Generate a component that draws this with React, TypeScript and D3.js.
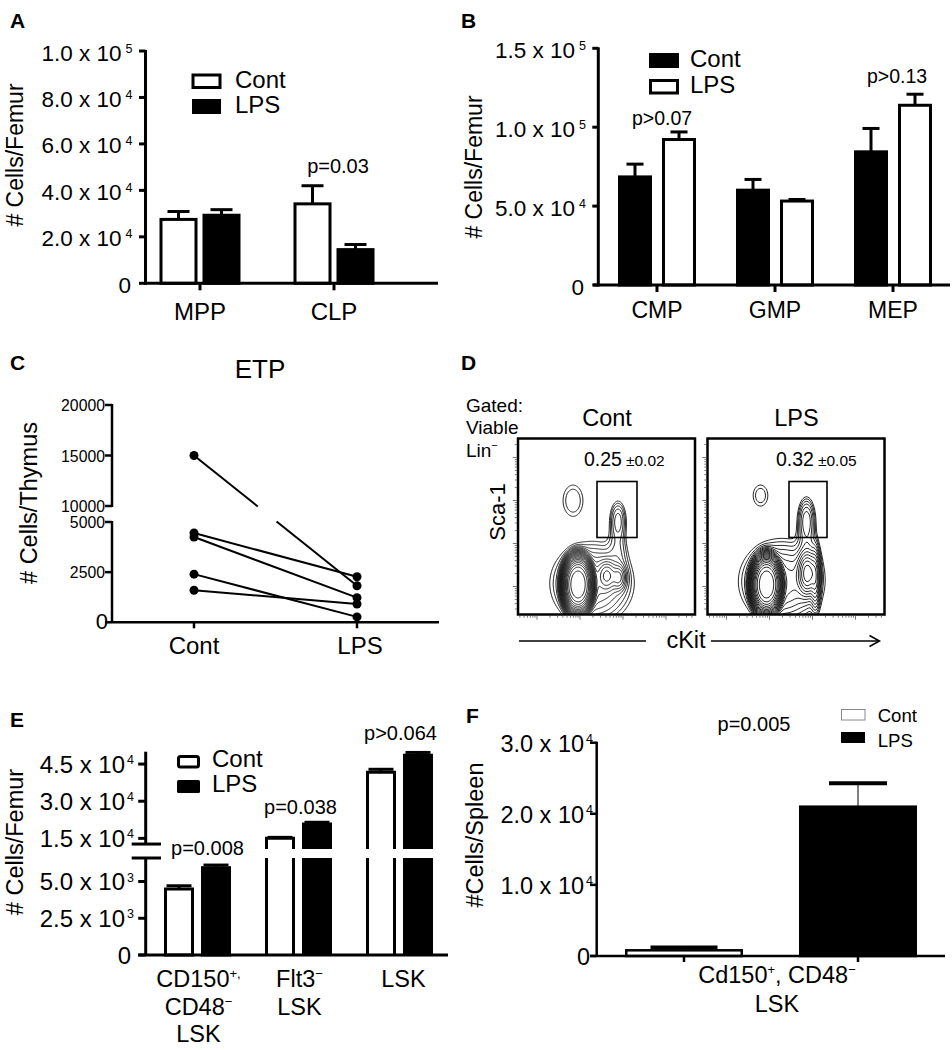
import React from "react";
import * as d3 from "d3";

const FONT = "'Liberation Sans', Arial, Helvetica, sans-serif";

// ---------------- Panel A data ----------------
const aCategories = ["MPP", "CLP"];
const aSeries = ["Cont", "LPS"];
const aContMeans = [27500, 34200];
const aContSem = [3400, 7800];
const aLpsMeans = [29300, 14500];
const aLpsSem = [2400, 2200];
const aTicks = [0, 20000, 40000, 60000, 80000, 100000];
const aTickLabels = ["0", "2.0 x 10^{4}", "4.0 x 10^{4}", "6.0 x 10^{4}", "8.0 x 10^{4}", "1.0 x 10^{5}"];
const aPLabels = ["", "p=0.03"];

// ---------------- Panel B data ----------------
const bCategories = ["CMP", "GMP", "MEP"];
const bSeries = ["Cont", "LPS"];
const bContMeans = [68500, 60100, 84400];
const bContSem = [8100, 6800, 14800];
const bLpsMeans = [92200, 53200, 113900];
const bLpsSem = [4800, 1000, 7000];
const bTicks = [0, 50000, 100000, 150000];
const bTickLabels = ["0", "5.0 x 10^{4}", "1.0 x 10^{5}", "1.5 x 10^{5}"];
const bPLabels = ["p>0.07", "", "p>0.13"];

// ---------------- Panel C data ----------------
const cGroups = ["Cont", "LPS"];
const cContValues = [15000, 4450, 4250, 2400, 1600];
const cLpsValues = [1820, 2270, 1230, 270, 910];
const cLowTicks = [0, 2500, 5000];
const cHighTicks = [10000, 15000, 20000];

// ---------------- Panel D data ----------------
const dPlotTitles = ["Cont", "LPS"];
const dGateFreq = ["0.25", "0.32"];
const dGateSd = ["±0.02", "±0.05"];
// populations: [cx, cy, sx, sy, weight, shape] in plot-box pixels
const dContPops = [
  [60, 146, 8, 15, 1, 1.6],
  [74, 145, 22, 22, 0.012, 1],
  [89, 137, 5, 8, 0.02, 1],
  [101, 139, 4, 7, 0.016, 1],
  [100, 82, 5, 12, 0.007, 1],
  [100, 112, 6, 14, 0.003, 1],
  [55, 62, 9, 14, 0.0032, 1.3],
];
const dLpsPops = [
  [59, 146, 8, 15, 1, 1.6],
  [74, 143, 22, 22, 0.013, 1],
  [100, 135, 5, 11, 0.05, 1],
  [108, 140, 2.5, 16, 0.02, 1],
  [99, 82, 5, 13, 0.01, 1],
  [100, 112, 6, 14, 0.004, 1],
  [53, 57, 7, 10, 0.003, 1.3],
];
const dGates = [
  [79, 43, 40, 56],
  [81.5, 43, 38, 56],
];

// ---------------- Panel E data ----------------
const eCategories = ["CD150^{+,}|CD48^{−}|LSK", "Flt3^{−}|LSK", "LSK"];
const eSeries = ["Cont", "LPS"];
const eContMeans = [4490, 15000, 41700];
const eContSem = [220, 400, 1200];
const eLpsMeans = [5940, 20800, 48600];
const eLpsSem = [180, 700, 1100];
const eLowTicks = [0, 2500, 5000];
const eLowTickLabels = ["0", "2.5 x 10^{3}", "5.0 x 10^{3}"];
const eHighTicks = [15000, 30000, 45000];
const eHighTickLabels = ["1.5 x 10^{4}", "3.0 x 10^{4}", "4.5 x 10^{4}"];
const ePLabels = ["p=0.008", "p=0.038", "p>0.064"];

// ---------------- Panel F data ----------------
const fSeries = ["Cont", "LPS"];
const fMeans = [800, 21000];
const fSem = [400, 3300];
const fTicks = [0, 10000, 20000, 30000];
const fTickLabels = ["0", "1.0 x 10^{4}", "2.0 x 10^{4}", "3.0 x 10^{4}"];
const fCategory = "Cd150^{+}, CD48^{−}|LSK";
const fPLabel = "p=0.005";

// ---------------- helpers ----------------
function Rich({ text, x, y, size, supSize, anchor = "start", weight, shift, supDx = 0 }: any) {
  const parts = text.split(/\^\{([^}]*)\}/);
  const sh = shift ?? size * 0.38;
  const nodes: any[] = [];
  let up = false;
  parts.forEach((p: string, i: number) => {
    if (!p) return;
    const isSup = i % 2 === 1;
    let dy = 0;
    if (isSup && !up) { dy = -sh; up = true; }
    else if (!isSup && up) { dy = sh; up = false; }
    nodes.push(
      <tspan key={i} dy={dy || undefined} dx={isSup && supDx ? supDx : undefined} fontSize={isSup ? supSize : size}>{p}</tspan>
    );
  });
  return (
    <text x={x} y={y} textAnchor={anchor} fontSize={size} fontWeight={weight} fill="#000">
      {nodes}
    </text>
  );
}

function RotTitle({ x, y, text, size }: any) {
  return (
    <text transform={`translate(${x},${y}) rotate(-90)`} textAnchor="middle" fontSize={size} fill="#000">
      {text}
    </text>
  );
}

function Letter({ x, y, t }: any) {
  return <text x={x} y={y} fontSize={21} fontWeight="bold" fill="#000">{t}</text>;
}

function ErrBar({ cx, y0, y1, capW, sw = 3, capSw = 3 }: any) {
  return (
    <g stroke="#000" fill="none">
      <line x1={cx} x2={cx} y1={y0} y2={y1} strokeWidth={sw} />
      <line x1={cx - capW / 2} x2={cx + capW / 2} y1={y1} y2={y1} strokeWidth={capSw} />
    </g>
  );
}

// ---------------- Panel A ----------------
function PanelA() {
  const y = d3.scaleLinear().domain([0, 100000]).range([283.3, 51]);
  const x0 = d3.scaleBand().domain(aCategories).range([133, 401]);
  const x1 = d3.scaleBand().domain(aSeries).range([-40.5, 40.5]).paddingInner(5 / 43);
  const means = [aContMeans, aLpsMeans];
  const sems = [aContSem, aLpsSem];
  const fills = ["#fff", "#000"];
  const axX = 145.5;
  return (
    <g>
      <Letter x={10} y={28.3} t="A" />
      <RotTitle x={23} y={155} text="# Cells/Femur" size={23} />
      {aTicks.map((t, i) => (
        <g key={t}>
          <line x1={axX - 6.5} x2={axX} y1={y(t)} y2={y(t)} stroke="#000" strokeWidth={3} />
          <Rich text={aTickLabels[i]} x={t === 0 ? 131 : 132.5} y={y(t) + 9.5} size={22.5} supSize={12.5} anchor="end" shift={8} supDx={4} />
        </g>
      ))}
      {aCategories.map((c, ci) => {
        const cx = (x0(c) as number) + x0.bandwidth() / 2;
        return (
          <g key={c}>
            <line x1={cx} x2={cx} y1={y(0)} y2={y(0) + 7} stroke="#000" strokeWidth={3} />
            <text x={cx} y={320} textAnchor="middle" fontSize={24} fill="#000">{c}</text>
            {aSeries.map((s, si) => {
              const bx = cx + (x1(s) as number);
              const bw = x1.bandwidth();
              const v = means[si][ci];
              return (
                <g key={s}>
                  <ErrBar cx={bx + bw / 2} y0={y(v)} y1={y(v + sems[si][ci])} capW={22} />
                  <rect x={bx + 1.5} y={y(v)} width={bw - 3} height={y(0) - y(v)} fill={fills[si]} stroke="#000" strokeWidth={3} />
                </g>
              );
            })}
            {aPLabels[ci] && (
              <text x={cx + 4} y={173.3} textAnchor="middle" fontSize={20} fill="#000">{aPLabels[ci]}</text>
            )}
          </g>
        );
      })}
      <line x1={axX} x2={axX} y1={y(100000) - 1} y2={y(0) + 1.5} stroke="#000" strokeWidth={3} />
      <line x1={axX} x2={438} y1={y(0)} y2={y(0)} stroke="#000" strokeWidth={3} />
      {/* legend */}
      <rect x={193} y={75} width={27} height={12.5} fill="#fff" stroke="#000" strokeWidth={3} />
      <rect x={192} y={99} width={29} height={15} fill="#000" />
      <text x={235} y={87.5} fontSize={24} fill="#000">{aSeries[0]}</text>
      <text x={235} y={113} fontSize={24} fill="#000">{aSeries[1]}</text>
    </g>
  );
}

// ---------------- Panel B ----------------
function PanelB() {
  const y = d3.scaleLinear().domain([0, 150000]).range([285, 48.3]);
  const x0 = d3.scaleBand().domain(bCategories).range([598, 952]);
  const x1 = d3.scaleBand().domain(bSeries).range([-39, 39]).paddingInner(10 / 44);
  const means = [bContMeans, bLpsMeans];
  const sems = [bContSem, bLpsSem];
  const fills = ["#000", "#fff"];
  const axX = 598.3;
  return (
    <g>
      <Letter x={461} y={28.3} t="B" />
      <RotTitle x={482} y={167} text="# Cells/Femur" size={23} />
      {bTicks.map((t, i) => (
        <g key={t}>
          <line x1={axX - 6} x2={axX} y1={y(t)} y2={y(t)} stroke="#000" strokeWidth={3} />
          <Rich text={bTickLabels[i]} x={t === 0 ? 584 : 586} y={y(t) + 9.5} size={22.5} supSize={12.5} anchor="end" shift={8} supDx={4} />
        </g>
      ))}
      {bCategories.map((c, ci) => {
        const cx = (x0(c) as number) + x0.bandwidth() / 2;
        return (
          <g key={c}>
            <line x1={cx} x2={cx} y1={y(0)} y2={y(0) + 7} stroke="#000" strokeWidth={3} />
            <text x={cx} y={318} textAnchor="middle" fontSize={23} fill="#000">{c}</text>
            {bSeries.map((s, si) => {
              const bx = cx + (x1(s) as number);
              const bw = x1.bandwidth();
              const v = means[si][ci];
              return (
                <g key={s}>
                  <ErrBar cx={bx + bw / 2} y0={y(v)} y1={y(v + sems[si][ci])} capW={17} />
                  <rect x={bx + 1.5} y={y(v)} width={bw - 3} height={y(0) - y(v)} fill={fills[si]} stroke="#000" strokeWidth={3} />
                </g>
              );
            })}
            {bPLabels[ci] && (
              <text x={ci === 0 ? cx + 5 : cx + 4} y={ci === 0 ? 125 : 82.7} textAnchor="middle" fontSize={19.5} fill="#000">{bPLabels[ci]}</text>
            )}
          </g>
        );
      })}
      <line x1={axX} x2={axX} y1={y(150000) - 1} y2={y(0) + 1.5} stroke="#000" strokeWidth={3} />
      <line x1={593} x2={950} y1={y(0)} y2={y(0)} stroke="#000" strokeWidth={3} />
      {/* legend */}
      <rect x={649} y={53} width={30} height={15} fill="#000" />
      <rect x={650.5} y={80.5} width={27} height={12.5} fill="#fff" stroke="#000" strokeWidth={3} />
      <text x={690} y={67} fontSize={24} fill="#000">{bSeries[0]}</text>
      <text x={690} y={93} fontSize={24} fill="#000">{bSeries[1]}</text>
    </g>
  );
}

// ---------------- Panel C ----------------
function PanelC() {
  const yLow = d3.scaleLinear().domain([0, 5000]).range([622.3, 522]);
  const yHigh = d3.scaleLinear().domain([10000, 20000]).range([506, 405]);
  const yv = (v: number) => (v >= 10000 ? yHigh(v) : yLow(v));
  const x = d3.scalePoint().domain(cGroups).range([194, 357]);
  const axX = 112;
  const gapTop = 506.5;
  const gapBot = 521.5;
  const segs: any[] = [];
  cContValues.forEach((cv, i) => {
    const xa = x("Cont") as number, ya = yv(cv);
    const xb = x("LPS") as number, yb = yv(cLpsValues[i]);
    if (ya < gapTop && yb > gapBot) {
      const t1 = (gapTop - ya) / (yb - ya);
      const t2 = (gapBot - ya) / (yb - ya);
      segs.push([xa, ya, xa + (xb - xa) * t1, gapTop]);
      segs.push([xa + (xb - xa) * t2, gapBot, xb, yb]);
    } else {
      segs.push([xa, ya, xb, yb]);
    }
  });
  return (
    <g>
      <Letter x={10} y={370} t="C" />
      <text x={260} y={378} textAnchor="middle" fontSize={26} fill="#000">ETP</text>
      <RotTitle x={37} y={503} text="# Cells/Thymus" size={23.5} />
      {cLowTicks.map((t) => (
        <g key={t}>
          <line x1={axX - 7} x2={axX} y1={yLow(t)} y2={yLow(t)} stroke="#000" strokeWidth={2.5} />
          <text x={t === 0 ? 108 : 105} y={yLow(t) + (t === 0 ? 7 : 6)} textAnchor="end" fontSize={t === 0 ? 22 : 15.8} fill="#000">{t}</text>
        </g>
      ))}
      {cHighTicks.map((t) => (
        <g key={t}>
          <line x1={axX - 7} x2={axX} y1={yHigh(t)} y2={yHigh(t)} stroke="#000" strokeWidth={2.5} />
          <text x={105} y={yHigh(t) + 6} textAnchor="end" fontSize={15.8} fill="#000">{t}</text>
        </g>
      ))}
      <line x1={axX} x2={axX} y1={yLow(0)} y2={yLow(5000) - 1} stroke="#000" strokeWidth={2.5} />
      <line x1={axX} x2={axX} y1={yHigh(10000) + 1} y2={yHigh(20000) - 1} stroke="#000" strokeWidth={2.5} />
      <line x1={axX} x2={439} y1={yLow(0)} y2={yLow(0)} stroke="#000" strokeWidth={2.5} />
      {cGroups.map((g) => (
        <g key={g}>
          <line x1={x(g)} x2={x(g)} y1={yLow(0)} y2={yLow(0) + 6} stroke="#000" strokeWidth={2.5} />
          <text x={(x(g) as number) + (g === "LPS" ? 3 : 0)} y={654} textAnchor="middle" fontSize={24} fill="#000">{g}</text>
        </g>
      ))}
      {segs.map((s, i) => (
        <line key={i} x1={s[0]} y1={s[1]} x2={s[2]} y2={s[3]} stroke="#000" strokeWidth={2} />
      ))}
      {cContValues.map((v, i) => (
        <circle key={"c" + i} cx={x("Cont")} cy={yv(v)} r={4.5} fill="#000" />
      ))}
      {cLpsValues.map((v, i) => (
        <circle key={"l" + i} cx={x("LPS")} cy={yv(v)} r={4.5} fill="#000" />
      ))}
    </g>
  );
}

// ---------------- Panel D ----------------
function ContourPlot({ x0, y0, pops, gate, title, freq, sd }: any) {
  const W = 177, H = 176;
  const vals: number[] = new Array(W * H);
  for (let j = 0; j < H; j++) {
    for (let i = 0; i < W; i++) {
      let s = 0;
      for (const [cx, cy, sx, sy, w, q] of pops) {
        const dx = (i + 0.5 - cx) / sx;
        const dy = (j + 0.5 - cy) / sy;
        s += w * Math.exp(-Math.pow(0.5 * (dx * dx + dy * dy), q));
      }
      vals[i + j * W] = s;
    }
  }
  const levels = d3.range(22).map((k) => 0.8 * Math.pow(0.75, k));
  const contours = d3.contours().size([W, H]).thresholds(levels)(vals);
  const path = d3.geoPath();
  const decade = 43;
  const yMajors = [19, 62, 105, 148];
  const xMajors = [19, 62, 105, 148];
  const minorOff = d3.range(2, 10).map((m) => Math.log10(m) * decade);
  const xTicks: any[] = [];
  [-24, ...xMajors].forEach((m, k) => {
    if (k > 0) xTicks.push([m, 4]);
    minorOff.forEach((o) => {
      const p = m + o;
      if (p > 0 && p < W) xTicks.push([p, 2]);
    });
  });
  const yTicks: any[] = [];
  [...yMajors, 191].forEach((m, k) => {
    if (k < yMajors.length) yTicks.push([m, 4]);
    minorOff.forEach((o) => {
      const p = m - o;
      if (p > 0 && p < H) yTicks.push([p, 2]);
    });
  });
  return (
    <g>
      <text x={x0 + 89} y={426} textAnchor="middle" fontSize={23.5} fill="#000">{title}</text>
      <defs>
        <clipPath id={"clip" + title}>
          <rect x={0} y={0} width={W} height={H} />
        </clipPath>
      </defs>
      <g transform={`translate(${x0},${y0})`}>
        <g clipPath={`url(#clip${title})`}>
          {contours.map((c, i) => (
            <path key={i} d={path(c as any) || ""} fill="none" stroke="#111" strokeWidth={0.9} />
          ))}
        </g>
        <rect x={gate[0]} y={gate[1]} width={gate[2]} height={gate[3]} fill="none" stroke="#000" strokeWidth={1.6} />
        <rect x={0} y={0} width={W} height={H} fill="none" stroke="#000" strokeWidth={2.5} />
        {yTicks.map((t, i) => (
          <line key={"y" + i} x1={-1.2 - t[1]} x2={-1.2} y1={t[0]} y2={t[0]} stroke="#555" strokeWidth={0.8} />
        ))}
        {xTicks.map((t, i) => (
          <line key={"x" + i} x1={t[0]} x2={t[0]} y1={H + 1.2} y2={H + 1.2 + t[1]} stroke="#555" strokeWidth={0.8} />
        ))}
        <text x={gate[0] - 13} y={27} fontSize={19.5} fill="#000">
          {freq}
          <tspan dx={4} fontSize={15.5}>{sd}</tspan>
        </text>
      </g>
    </g>
  );
}

function PanelD() {
  const xs = [518, 707.5];
  const pops = [dContPops, dLpsPops];
  return (
    <g>
      <Letter x={461} y={370} t="D" />
      <text x={466} y={411.5} fontSize={19} fill="#000">Gated:</text>
      <text x={466} y={434.3} fontSize={19} fill="#000">Viable</text>
      <Rich text="Lin^{−}" x={466} y={456.7} size={19} supSize={11} shift={8} />
      <RotTitle x={505} y={512} text="Sca-1" size={22} />
      {dPlotTitles.map((t, i) => (
        <ContourPlot key={t} x0={xs[i]} y0={438.5} pops={pops[i]} gate={dGates[i]} title={t} freq={dGateFreq[i]} sd={dGateSd[i]} />
      ))}
      <text x={686} y={648.3} textAnchor="middle" fontSize={23.5} fill="#000">cKit</text>
      <line x1={519} x2={646} y1={641} y2={641} stroke="#000" strokeWidth={1.5} />
      <line x1={711} x2={879} y1={641} y2={641} stroke="#000" strokeWidth={1.5} />
      <polyline points="869.5,635.5 879.5,641 869.5,646.5" fill="none" stroke="#000" strokeWidth={1.5} />
    </g>
  );
}

// ---------------- Panel E ----------------
function PanelE() {
  const yLow = d3.scaleLinear().domain([0, 6600]).range([955, 858]);
  const yUp = d3.scaleLinear().domain([10700, 50000]).range([849, 751.7]);
  const yv = (v: number) => (v <= 6600 ? yLow(v) : yUp(v));
  const x0 = d3.scaleBand().domain(eCategories).range([147, 450]);
  const x1 = d3.scaleBand().domain(eSeries).range([-33.5, 33.5]).paddingInner(7 / 37);
  const means = [eContMeans, eLpsMeans];
  const sems = [eContSem, eLpsSem];
  const fills = ["#fff", "#000"];
  const axX = 145.7;
  const base = yLow(0);
  const lowTop = yLow(6600);
  const upBot = yUp(10700);
  const pY = [855, 814, 740];
  return (
    <g>
      <Letter x={10} y={727} t="E" />
      <RotTitle x={23} y={842} text="# Cells/Femur" size={23.5} />
      {eLowTicks.map((t, i) => (
        <g key={t}>
          <line x1={axX - 7.5} x2={axX} y1={yLow(t)} y2={yLow(t)} stroke="#000" strokeWidth={3} />
          <Rich text={eLowTickLabels[i]} x={t === 0 ? 131 : 134} y={yLow(t) + 8.5} size={24} supSize={12.5} anchor="end" shift={8.5} supDx={2} />
        </g>
      ))}
      {eHighTicks.map((t, i) => (
        <g key={t}>
          <line x1={axX - 7.5} x2={axX} y1={yUp(t)} y2={yUp(t)} stroke="#000" strokeWidth={3} />
          <Rich text={eHighTickLabels[i]} x={134} y={yUp(t) + 8.5} size={24} supSize={12.5} anchor="end" shift={8.5} supDx={2} />
        </g>
      ))}
      <line x1={axX} x2={axX} y1={base} y2={lowTop} stroke="#000" strokeWidth={3} />
      <line x1={axX} x2={axX} y1={yUp(12700)} y2={yUp(50000)} stroke="#000" strokeWidth={3} />
      <line x1={131.7} x2={161} y1={yUp(12700)} y2={yUp(12700)} stroke="#000" strokeWidth={3} />
      <line x1={131.7} x2={161} y1={lowTop} y2={lowTop} stroke="#000" strokeWidth={3} />
      {eCategories.map((c, ci) => {
        const cx = (x0(c) as number) + x0.bandwidth() / 2;
        const lines = c.split("|");
        return (
          <g key={c}>
            {lines.map((ln, li) => (
              <Rich key={li} text={ln} x={cx + (ci === 0 ? 1 : ci === 1 ? 1 : 4)} y={987 + li * 27.5} size={23.5} supSize={13} anchor="middle" shift={9} />
            ))}
            {eSeries.map((s, si) => {
              const bx = cx + (x1(s) as number) + 1.5;
              const bw = x1.bandwidth() - 3;
              const v = means[si][ci];
              const top = yv(v);
              const err = yv(v + sems[si][ci]);
              const fill = fills[si];
              return (
                <g key={s}>
                  <ErrBar cx={bx + bw / 2} y0={top} y1={err} capW={bw - 2} />
                  {v <= 6600 ? (
                    <rect x={bx} y={top} width={bw} height={base - top} fill={fill} stroke="#000" strokeWidth={3} />
                  ) : (
                    <g>
                      <rect x={bx} y={lowTop} width={bw} height={base - lowTop} fill={fill} />
                      <path d={`M${bx},${base}V${lowTop}M${bx + bw},${lowTop}V${base}`} fill="none" stroke="#000" strokeWidth={3} />
                      <rect x={bx} y={top} width={bw} height={upBot - top} fill={fill} />
                      <path d={`M${bx},${upBot}V${top}H${bx + bw}V${upBot}`} fill="none" stroke="#000" strokeWidth={3} />
                    </g>
                  )}
                </g>
              );
            })}
            <text x={cx + (ci === 0 ? 10 : ci === 1 ? 2 : 1)} y={pY[ci]} textAnchor="middle" fontSize={20} fill="#000">{ePLabels[ci]}</text>
          </g>
        );
      })}
      <line x1={138.3} x2={448} y1={base} y2={base} stroke="#000" strokeWidth={3} />
      {/* legend */}
      <rect x={178.5} y={756.5} width={20} height={10.5} rx={2} fill="#fff" stroke="#000" strokeWidth={3} />
      <rect x={177} y={780} width={23} height={13} rx={1.5} fill="#000" />
      <text x={212} y={767} fontSize={24} fill="#000">{eSeries[0]}</text>
      <text x={212} y={791.5} fontSize={24} fill="#000">{eSeries[1]}</text>
    </g>
  );
}

// ---------------- Panel F ----------------
function PanelF() {
  const y = d3.scaleLinear().domain([0, 30000]).range([956, 742.7]);
  const x = d3.scaleBand().domain(fSeries).range([597, 945]).paddingInner(56 / 174).paddingOuter(28 / 174);
  const axX = 596.7;
  const fills = ["#fff", "#000"];
  const capW = [67, 58];
  const lines = fCategory.split("|");
  return (
    <g>
      <Letter x={466} y={723} t="F" />
      <RotTitle x={483} y={835} text="#Cells/Spleen" size={23.5} />
      {fTicks.map((t, i) => (
        <g key={t}>
          <line x1={590} x2={axX} y1={y(t)} y2={y(t)} stroke="#000" strokeWidth={2.5} />
          <Rich text={fTickLabels[i]} x={t === 0 ? 590 : 593} y={y(t) + 9} size={23.5} supSize={12.5} anchor="end" shift={8.5} supDx={2} />
        </g>
      ))}
      {fSeries.map((s, si) => {
        const bx = x(s) as number;
        const bw = x.bandwidth();
        const cx = bx + bw / 2;
        const v = fMeans[si];
        return (
          <g key={s}>
            <line x1={cx} x2={cx} y1={y(0)} y2={y(0) + 6} stroke="#000" strokeWidth={2.5} />
            <ErrBar cx={cx} y0={y(v)} y1={y(v + fSem[si])} capW={capW[si]} sw={1} capSw={4} />
            <rect x={bx + 1.25} y={y(v)} width={bw - 2.5} height={y(0) - y(v)} fill={fills[si]} stroke="#000" strokeWidth={2.5} />
          </g>
        );
      })}
      <line x1={axX} x2={axX} y1={y(30000) - 1} y2={y(0)} stroke="#000" strokeWidth={2.5} />
      <line x1={590} x2={945} y1={y(0)} y2={y(0)} stroke="#000" strokeWidth={2.5} />
      {lines.map((ln, li) => (
        <Rich key={li} text={ln} x={777} y={983.3 + li * 28.4} size={23.5} supSize={13} anchor="middle" shift={9} />
      ))}
      <text x={754} y={731} textAnchor="middle" fontSize={20} fill="#000">{fPLabel}</text>
      {/* legend */}
      <rect x={841.5} y={709.5} width={23.5} height={10.5} fill="#fff" stroke="#888" strokeWidth={1} />
      <rect x={841} y={732} width={24} height={11} fill="#000" />
      <text x={877.7} y={722} fontSize={18.6} fill="#000">{fSeries[0]}</text>
      <text x={877.7} y={746.7} fontSize={18.6} fill="#000">{fSeries[1]}</text>
    </g>
  );
}

export default function App() {
  return (
    <svg
      width={952}
      height={1050}
      style={{ position: "absolute", left: 0, top: 0, background: "#fff" }}
      fontFamily={FONT}
    >
      <rect width={952} height={1050} fill="#fff" />
      <PanelA />
      <PanelB />
      <PanelC />
      <PanelD />
      <PanelE />
      <PanelF />
    </svg>
  );
}
